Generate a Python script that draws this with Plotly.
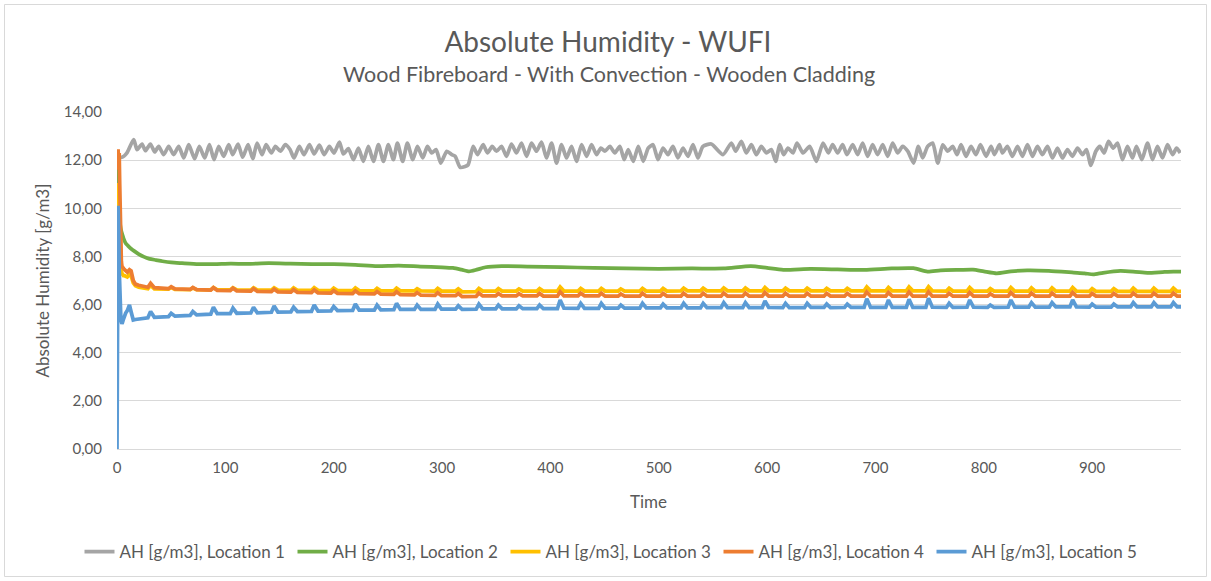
import plotly.graph_objects as go

# ---------------- data ----------------
series_names = [
    "AH [g/m3], Location 1",
    "AH [g/m3], Location 2",
    "AH [g/m3], Location 3",
    "AH [g/m3], Location 4",
    "AH [g/m3], Location 5",
]
series_colors = ["#A5A5A5", "#70AD47", "#FFC000", "#ED7D31", "#5B9BD5"]

# Location 1 (outer side) – own time stamps
t_loc1 = [
    0, 4.6, 9.2, 15.4, 18.5, 23.1, 26.2, 30.8, 34.8, 38.5, 43.1, 47.7, 52.3, 57.0, 61.6, 66.2,
    71.7, 76.0, 81.0, 85.3, 89.6, 93.9, 98.5, 103.1, 106.8, 111.7, 116.0, 121.0, 125.3, 129.3,
    133.9, 137.6, 142.5, 146.2, 150.8, 155.4, 159.7, 163.4, 168.3, 172.6, 177.6, 181.9, 186.8,
    191.1, 196.0, 200.3, 205.3, 208.9, 213.6, 218.2, 222.8, 227.4, 232.0, 236.7, 241.3, 245.9,
    250.5, 255.1, 258.8, 263.7, 268.0, 273.0, 277.3, 282.2, 286.5, 290.5, 294.5, 298.8, 304.4,
    309.0, 312.1, 316.7, 321.3, 324.1, 328.7, 332.7, 337.9, 341.9, 346.3, 350.3, 354.9, 359.5,
    364.1, 368.7, 373.3, 378.0, 382.6, 387.2, 391.8, 396.4, 401.1, 405.7, 410.3, 414.9, 419.5,
    424.1, 428.8, 433.4, 438.0, 442.6, 446.6, 450.3, 454.9, 459.5, 464.1, 468.1, 471.8, 476.5,
    481.1, 485.7, 490.3, 494.7, 499.3, 503.9, 508.5, 513.1, 517.7, 522.4, 527.0, 531.6, 536.2,
    540.8, 548.5, 559.3, 567.0, 571.0, 576.2, 580.8, 585.5, 590.1, 594.7, 599.3, 603.9, 607.9,
    611.6, 615.3, 619.3, 623.9, 627.6, 633.2, 639.3, 645.5, 651.6, 656.5, 660.5, 665.1, 669.7,
    673.7, 679.0, 683.6, 688.2, 692.8, 697.4, 702.0, 706.7, 711.3, 715.9, 720.5, 725.1, 729.8,
    735.3, 739.6, 743.6, 748.2, 752.8, 757.5, 762.1, 766.7, 771.3, 775.3, 779.0, 783.6, 788.2,
    792.8, 796.9, 802.1, 806.7, 809.8, 814.4, 817.2, 821.8, 826.4, 831.1, 835.7, 840.3, 844.9,
    849.5, 854.1, 858.8, 863.4, 868.0, 872.6, 877.2, 881.8, 886.5, 891.1, 894.8, 898.8, 903.4,
    907.1, 911.1, 915.1, 919.4, 923.4, 928.0, 932.6, 937.2, 940.9, 945.9, 951.1, 955.7, 960.3,
    964.9, 969.6, 974.2, 977.9, 981.3,
]
ah_loc1 = [
    12.20, 12.12, 12.30, 12.85, 12.44, 12.67, 12.39, 12.67, 12.34, 12.57, 12.23, 12.57, 12.23, 12.57, 12.09, 12.64,
    12.06, 12.57, 12.09, 12.64, 12.02, 12.57, 12.16, 12.64, 12.23, 12.67, 12.12, 12.64, 12.06, 12.71,
    12.23, 12.64, 12.30, 12.57, 12.37, 12.64, 12.44, 12.09, 12.57, 12.23, 12.64, 12.26, 12.62,
    12.23, 12.57, 12.30, 12.75, 12.26, 12.48, 12.02, 12.50, 11.95, 12.57, 11.95, 12.64, 11.95,
    12.64, 12.02, 12.71, 11.95, 12.71, 12.02, 12.57, 12.09, 12.57, 12.30, 12.44, 11.88, 12.37,
    12.23, 12.16, 11.70, 11.74, 11.81, 12.57, 12.23, 12.64, 12.30, 12.57, 12.37, 12.57, 12.16,
    12.67, 12.30, 12.71, 12.16, 12.71, 12.37, 12.75, 12.09, 12.71, 11.88, 12.64, 12.09, 12.57,
    11.95, 12.64, 12.16, 12.64, 12.23, 12.50, 12.37, 12.57, 12.30, 12.57, 12.02, 12.44, 11.95,
    12.57, 11.95, 12.50, 12.64, 12.02, 12.50, 12.23, 12.57, 12.09, 12.50, 12.16, 12.64, 12.09,
    12.57, 12.67, 12.23, 12.71, 12.37, 12.78, 12.30, 12.64, 12.23, 12.57, 12.30, 12.44, 11.95,
    12.64, 12.23, 12.50, 12.30, 12.71, 12.30, 12.57, 11.95, 12.71, 12.30, 12.64, 12.30, 12.64,
    12.23, 12.64, 12.23, 12.71, 12.16, 12.64, 12.23, 12.64, 12.16, 12.71, 12.30, 12.57, 12.37,
    11.88, 12.57, 12.09, 12.57, 12.71, 11.88, 12.64, 12.37, 12.57, 12.23, 12.64, 12.16, 12.57,
    12.23, 12.64, 12.16, 12.57, 12.23, 12.64, 12.30, 12.57, 12.16, 12.57, 12.16, 12.64, 12.16,
    12.57, 12.23, 12.57, 12.09, 12.50, 12.09, 12.44, 12.16, 12.50, 12.23, 12.44, 11.78, 12.37,
    12.57, 12.30, 12.78, 12.50, 12.71, 12.02, 12.57, 12.09, 12.57, 12.02, 12.71, 12.02, 12.57,
    12.09, 12.64, 12.23, 12.50, 12.30,
]

# Location 2 – own time stamps
t_loc2 = [
    0, 0.5, 1, 1.5, 2, 2.5, 3, 4, 5, 6, 8, 10, 13, 16, 20, 25, 30, 36, 42, 50, 60, 75, 90,
    105, 120, 140, 160, 180, 200, 220, 240, 260, 280, 300, 310, 318, 325, 332, 340, 355, 380,
    410, 440, 470, 500, 530, 560, 585, 600, 615, 640, 665, 690, 715, 735, 748, 760, 778, 790,
    800, 812, 825, 840, 860, 883, 893, 901, 910, 926, 940, 951, 965, 975, 982,
]
ah_loc2 = [
    11.0, 11.8, 12.0, 11.0, 10.2, 9.6, 9.3, 9.05, 8.9, 8.75, 8.55, 8.45, 8.32, 8.22, 8.10, 7.98,
    7.90, 7.85, 7.80, 7.75, 7.72, 7.68, 7.68, 7.70, 7.69, 7.72, 7.70, 7.68, 7.68, 7.65, 7.60,
    7.62, 7.58, 7.55, 7.52, 7.45, 7.38, 7.45, 7.55, 7.60, 7.58, 7.56, 7.52, 7.50, 7.48, 7.50,
    7.50, 7.60, 7.52, 7.44, 7.48, 7.46, 7.44, 7.50, 7.51, 7.37, 7.42, 7.44, 7.45, 7.38, 7.30,
    7.38, 7.42, 7.40, 7.33, 7.30, 7.25, 7.32, 7.40, 7.36, 7.32, 7.35, 7.37, 7.37,
]

# Locations 3, 4 and 5 share the same time stamps
t_low = [
    0, 0.5, 1, 1.5, 2, 2.5, 3, 3.5, 4, 4.5, 5, 6, 7, 8, 9.5, 11.5, 13, 15, 17, 20, 24,
    28.5, 31, 34.5, 47.5, 50, 53.5, 67.5, 70, 73.5, 86.5, 89, 92.5,
    104.5, 107, 110.5, 123.5, 126, 129.5, 142.5, 145, 148.5, 160.5, 163, 166.5,
    179.5, 182, 185.5, 197.5, 200, 203.5, 217.5, 220, 223.5, 237.5, 240, 243.5,
    255.5, 258, 261.5, 274.5, 277, 280.5, 293.5, 296, 299.5, 312.5, 315, 318.5,
    331.5, 334, 337.5, 349.5, 352, 355.5, 368.5, 371, 374.5, 387.5, 390, 393.5,
    406.5, 409, 412.5, 425.5, 428, 431.5, 444.5, 447, 450.5, 462.5, 465, 468.5,
    482.5, 485, 488.5, 501.5, 504, 507.5, 520.5, 523, 526.5, 538.5, 541, 544.5,
    557.5, 560, 563.5, 577.5, 580, 583.5, 595.5, 598, 601.5, 614.5, 617, 620.5,
    634.5, 637, 640.5, 652.5, 655, 658.5, 671.5, 674, 677.5, 689.5, 692, 695.5,
    709.5, 712, 715.5, 728.5, 731, 734.5, 746.5, 749, 752.5, 765.5, 768, 771.5,
    784.5, 787, 790.5, 803.5, 806, 809.5, 822.5, 825, 828.5, 841.5, 844, 847.5,
    860.5, 863, 866.5, 879.5, 882, 885.5, 897.5, 900, 903.5, 917.5, 920, 923.5,
    935.5, 938, 941.5, 954.5, 957, 960.5, 972.5, 975, 978.5, 982,
]
ah_loc3 = [
    10.2, 10.8, 11.05, 10.6, 9.8, 8.8, 8.0, 7.6, 7.4, 7.3, 7.25, 7.2, 7.2, 7.18, 7.15, 7.25, 7.2, 6.9, 6.78, 6.72, 6.68,
    6.66, 6.80, 6.65, 6.64, 6.71, 6.63, 6.62, 6.69, 6.62, 6.61, 6.71, 6.61,
    6.61, 6.70, 6.61, 6.60, 6.70, 6.60, 6.60, 6.70, 6.60, 6.59, 6.69, 6.59,
    6.59, 6.70, 6.59, 6.58, 6.68, 6.58, 6.58, 6.69, 6.58, 6.57, 6.67, 6.57,
    6.57, 6.68, 6.57, 6.57, 6.66, 6.57, 6.56, 6.67, 6.56, 6.56, 6.65, 6.53,
    6.54, 6.67, 6.56, 6.56, 6.66, 6.56, 6.56, 6.65, 6.56, 6.56, 6.66, 6.56,
    6.56, 6.73, 6.56, 6.56, 6.67, 6.56, 6.56, 6.67, 6.56, 6.56, 6.65, 6.56,
    6.56, 6.67, 6.56, 6.56, 6.67, 6.56, 6.57, 6.68, 6.57, 6.57, 6.68, 6.57,
    6.57, 6.69, 6.57, 6.57, 6.69, 6.57, 6.57, 6.71, 6.57, 6.57, 6.68, 6.57,
    6.57, 6.68, 6.57, 6.57, 6.67, 6.57, 6.57, 6.67, 6.57, 6.57, 6.73, 6.57,
    6.57, 6.71, 6.57, 6.57, 6.73, 6.57, 6.57, 6.74, 6.57, 6.56, 6.68, 6.56,
    6.56, 6.71, 6.56, 6.56, 6.66, 6.56, 6.56, 6.71, 6.56, 6.56, 6.69, 6.56,
    6.56, 6.69, 6.56, 6.56, 6.71, 6.56, 6.55, 6.66, 6.55, 6.55, 6.66, 6.55,
    6.55, 6.68, 6.55, 6.55, 6.68, 6.55, 6.55, 6.68, 6.55, 6.55,
]
ah_loc4 = [
    11.6, 12.2, 12.45, 11.8, 12.3, 11.0, 9.5, 8.3, 7.8, 7.6, 7.55, 7.5, 7.45, 7.4, 7.35, 7.45, 7.4, 7.0, 6.85, 6.8, 6.75,
    6.72, 6.88, 6.70, 6.66, 6.74, 6.65, 6.63, 6.71, 6.62, 6.60, 6.70, 6.59,
    6.58, 6.68, 6.57, 6.56, 6.66, 6.55, 6.54, 6.64, 6.53, 6.52, 6.62, 6.51,
    6.50, 6.61, 6.49, 6.48, 6.58, 6.47, 6.46, 6.57, 6.45, 6.44, 6.54, 6.43,
    6.42, 6.53, 6.41, 6.40, 6.50, 6.39, 6.38, 6.49, 6.37, 6.37, 6.46, 6.33,
    6.34, 6.48, 6.36, 6.36, 6.46, 6.36, 6.36, 6.45, 6.36, 6.36, 6.46, 6.35,
    6.35, 6.53, 6.36, 6.36, 6.47, 6.36, 6.36, 6.47, 6.35, 6.35, 6.44, 6.35,
    6.35, 6.47, 6.35, 6.35, 6.46, 6.35, 6.35, 6.47, 6.35, 6.35, 6.47, 6.35,
    6.35, 6.48, 6.35, 6.35, 6.48, 6.35, 6.35, 6.50, 6.35, 6.35, 6.47, 6.35,
    6.35, 6.47, 6.35, 6.35, 6.46, 6.35, 6.35, 6.46, 6.35, 6.35, 6.52, 6.35,
    6.35, 6.50, 6.35, 6.35, 6.52, 6.35, 6.35, 6.53, 6.35, 6.35, 6.47, 6.35,
    6.35, 6.50, 6.35, 6.35, 6.45, 6.35, 6.35, 6.50, 6.35, 6.35, 6.48, 6.35,
    6.35, 6.48, 6.35, 6.35, 6.50, 6.35, 6.35, 6.46, 6.35, 6.35, 6.46, 6.35,
    6.35, 6.48, 6.35, 6.35, 6.48, 6.35, 6.35, 6.48, 6.35, 6.35,
]
ah_loc5 = [
    0.0, 5.0, 10.1, 9.0, 7.5, 6.5, 5.9, 5.5, 5.3, 5.2, 5.25, 5.4, 5.55, 5.65, 5.75, 5.98, 5.7, 5.36, 5.38, 5.4, 5.43,
    5.45, 5.71, 5.47, 5.50, 5.64, 5.52, 5.55, 5.71, 5.57, 5.60, 5.89, 5.62,
    5.62, 5.85, 5.64, 5.65, 5.89, 5.66, 5.68, 5.94, 5.69, 5.70, 5.89, 5.71,
    5.72, 5.98, 5.73, 5.74, 5.92, 5.75, 5.76, 6.02, 5.77, 5.77, 5.98, 5.78,
    5.79, 6.05, 5.80, 5.80, 5.98, 5.80, 5.80, 6.02, 5.81, 5.81, 5.95, 5.80,
    5.81, 6.02, 5.82, 5.82, 5.98, 5.82, 5.82, 5.95, 5.83, 5.83, 5.98, 5.83,
    5.83, 6.19, 5.85, 5.84, 6.05, 5.84, 5.84, 6.05, 5.85, 5.85, 5.98, 5.85,
    5.85, 6.05, 5.86, 5.86, 6.02, 5.86, 5.86, 6.05, 5.86, 5.86, 6.05, 5.87,
    5.87, 6.08, 5.87, 5.87, 6.08, 5.87, 5.87, 6.15, 5.88, 5.87, 6.05, 5.87,
    5.87, 6.05, 5.88, 5.88, 6.02, 5.87, 5.88, 6.02, 5.88, 5.88, 6.24, 5.88,
    5.88, 6.19, 5.88, 5.88, 6.22, 5.88, 5.88, 6.26, 5.89, 5.88, 6.05, 5.88,
    5.89, 6.19, 5.89, 5.88, 5.98, 5.88, 5.89, 6.19, 5.89, 5.89, 6.08, 5.89,
    5.89, 6.08, 5.90, 5.90, 6.19, 5.90, 5.89, 6.02, 5.89, 5.89, 6.02, 5.90,
    5.90, 6.08, 5.90, 5.90, 6.08, 5.90, 5.90, 6.08, 5.90, 5.90,
]

x_ticks = [0, 100, 200, 300, 400, 500, 600, 700, 800, 900]
y_ticks = [0, 2, 4, 6, 8, 10, 12, 14]

assert len(t_loc1) == len(ah_loc1)
assert len(t_loc2) == len(ah_loc2)
assert len(t_low) == len(ah_loc3) == len(ah_loc4) == len(ah_loc5)

# ---------------- figure ----------------
W, H = 1211, 581
ML, MR, MT, MB = 117, 30, 112, 132
PW, PH = W - ML - MR, H - MT - MB

TXT = "#595959"
GRID = "#D9D9D9"
FONT = "Lato, 'Open Sans', sans-serif"

xs = [t_loc1, t_loc2, t_low, t_low, t_low]
ys = [ah_loc1, ah_loc2, ah_loc3, ah_loc4, ah_loc5]
shapes = ["spline", "spline", "linear", "linear", "linear"]

fig = go.Figure()
for name, color, x, y, shp in zip(series_names, series_colors, xs, ys, shapes):
    fig.add_trace(go.Scatter(
        x=x, y=y, mode="lines", name=name,
        line=dict(color=color, width=3.75, shape=shp, smoothing=0.6),
        hoverinfo="skip",
    ))


def px_x(px):
    return (px - ML) / PW


def px_y(py):
    return (H - MB - py) / PH


fig.update_layout(
    width=W, height=H,
    margin=dict(l=ML, r=MR, t=MT, b=MB, autoexpand=False),
    paper_bgcolor="white", plot_bgcolor="white",
    separators=", ",
    font=dict(family=FONT, color=TXT, size=15),
    title=dict(
        text="Absolute Humidity - WUFI",
        font=dict(size=28, color=TXT, family=FONT),
        x=0.502, xref="container", xanchor="center",
        y=1 - 42 / H, yref="container", yanchor="middle",
    ),
    xaxis=dict(
        range=[0, 982], tickvals=x_ticks, ticktext=[str(v) for v in x_ticks],
        showgrid=False, zeroline=False,
        showline=True, linecolor=GRID, linewidth=1,
        ticks="", tickfont=dict(size=15, color=TXT), ticklabelstandoff=5,
    ),
    yaxis=dict(
        range=[0, 14], tickvals=y_ticks, tickformat=".2f",
        showgrid=True, gridcolor=GRID, gridwidth=1, zeroline=False,
        showline=False, ticks="", tickfont=dict(size=15, color=TXT),
        ticklabelstandoff=14,
    ),
    legend=dict(
        orientation="h", x=px_x(612), xanchor="center",
        y=px_y(552), yanchor="middle",
        font=dict(size=17, color=TXT), itemwidth=30,
        entrywidth=168, entrywidthmode="pixels",
        bgcolor="rgba(0,0,0,0)",
    ),
    showlegend=True,
)

fig.add_annotation(
    text="Wood Fibreboard - With Convection - Wooden Cladding",
    xref="paper", yref="paper", x=px_x(609), y=px_y(74),
    xanchor="center", yanchor="middle", showarrow=False,
    font=dict(size=21.5, color=TXT, family=FONT),
)
fig.add_annotation(
    text="Absolute Humidity [g/m3]",
    xref="paper", yref="paper", x=px_x(42), y=0.5, textangle=-90,
    xanchor="center", yanchor="middle", showarrow=False,
    font=dict(size=17, color=TXT, family=FONT),
)
fig.add_annotation(
    text="Time",
    xref="paper", yref="paper", x=px_x(648), y=px_y(501),
    xanchor="center", yanchor="middle", showarrow=False,
    font=dict(size=17, color=TXT, family=FONT),
)

# thin frame around the whole chart area
fig.add_shape(
    type="rect", xref="paper", yref="paper",
    x0=px_x(4.5), x1=px_x(1206.5), y0=px_y(576.5), y1=px_y(4.5),
    line=dict(color=GRID, width=1), fillcolor="rgba(0,0,0,0)", layer="below",
)

fig.write_html("out.html")
